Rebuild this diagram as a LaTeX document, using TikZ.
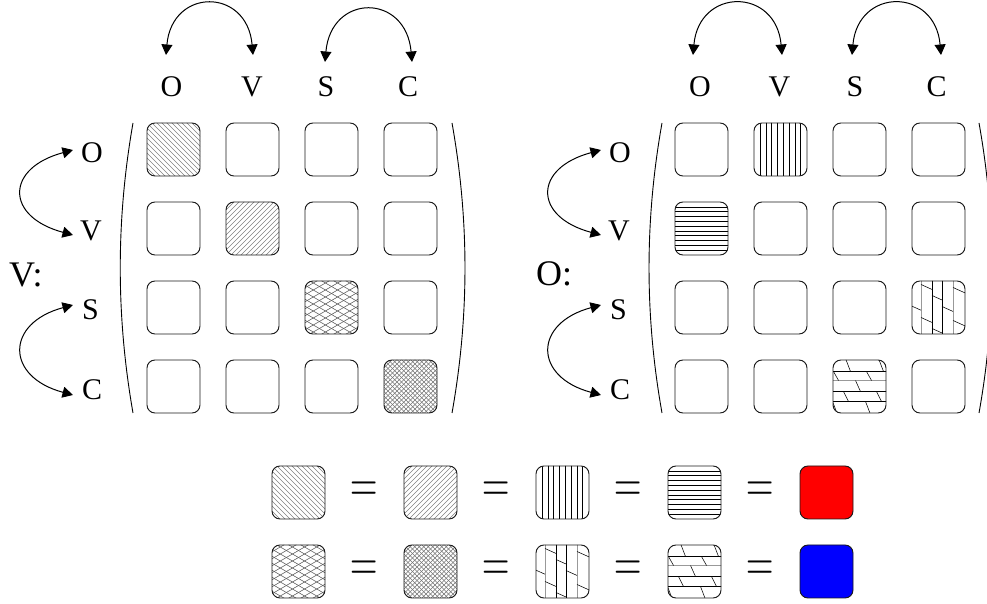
\documentclass[tikz,border=0pt]{standalone}
\usepackage{fontspec}
\usepackage{graphicx}
\setmainfont{Liberation Serif}
\newfontfamily\lmrfont{Latin Modern Roman}
\usetikzlibrary{arrows.meta}
\tikzset{
  cellbox/.style={draw=black!90, line width=0.95pt, rounded corners=8pt,
    minimum width=53pt, minimum height=53pt, inner sep=0pt},
  plain/.style={},
  lbl/.style={font=\fontsize{30}{36}\selectfont, inner sep=0pt},
  biglbl/.style={font=\fontsize{36}{42}\selectfont, inner sep=0pt},
  eqsign/.style={font=\lmrfont\fontsize{33}{40}\selectfont, inner sep=0pt},
  arr/.style={{Triangle[length=10.5pt,width=11pt]}-{Triangle[length=10.5pt,width=11pt]}, line width=1pt},
  paren/.style={line width=0.9pt},
  patNW/.style={path picture={
    \foreach \i in {-60,-55,...,60}{
      \draw[black!50,line width=0.65pt] ([xshift=\i pt]path picture bounding box.center) ++(-40pt,40pt) -- ++(80pt,-80pt);
    }}},
  patNE/.style={path picture={
    \foreach \i in {-60,-55,...,60}{
      \draw[black!50,line width=0.65pt] ([xshift=\i pt]path picture bounding box.center) ++(-40pt,-40pt) -- ++(80pt,80pt);
    }}},
  patDia/.style={path picture={
    \foreach \i in {-49,-42,...,49}{
      \draw[black!65,line width=0.55pt] ([yshift=\i pt]path picture bounding box.center) ++(-52pt,-30pt) -- ++(104pt,60pt);
      \draw[black!65,line width=0.55pt] ([yshift=\i pt]path picture bounding box.center) ++(-52pt,30pt) -- ++(104pt,-60pt);
    }}},
  patFine/.style={path picture={
    \foreach \i in {-54,-49.5,...,54}{
      \draw[black!55,line width=0.5pt] ([xshift=\i pt]path picture bounding box.center) ++(-40pt,-40pt) -- ++(80pt,80pt);
      \draw[black!55,line width=0.5pt] ([xshift=\i pt]path picture bounding box.center) ++(-40pt,40pt) -- ++(80pt,-80pt);
    }}},
  patV/.style={path picture={
    \foreach \i in {-20.3,-14.5,-8.7,-2.9,2.9,8.7,14.5,20.3}{
      \draw[black,line width=0.7pt] ([xshift=\i pt]path picture bounding box.center) ++(0pt,-30pt) -- ++(0pt,60pt);
    }}},
  patH/.style={path picture={
    \foreach \i in {-21.6,-16.8,...,21.7}{
      \draw[black,line width=0.7pt] ([yshift=\i pt]path picture bounding box.center) ++(-30pt,0pt) -- ++(60pt,0pt);
    }}},
  patBH/.style={path picture={
    \coordinate (pc) at (path picture bounding box.center);
    \foreach \yy/\cc in {15/black,6/black!40,-5/black,-15/black}{
      \draw[\cc,line width=0.65pt] ([yshift=\yy pt]pc) ++(-30pt,0pt) -- ++(60pt,0pt);
    }
    \foreach \ya/\yb/\off in {28/15/-14, 15/6/7, 6/-5/-4, -5/-15/17, -15/-28/6}{
      \foreach \j in {-2,-1,0,1}{
        \draw[black,line width=0.55pt] (pc) ++({(\off+(\j)*33)*1pt},{\ya*1pt}) -- ++(5pt,{(\yb-(\ya))*1pt});
      }
    }}},
  patBV/.style={path picture={
    \coordinate (pc) at (path picture bounding box.center);
    \foreach \xx/\cc in {-17.5/black!40,-6.5/black,3.5/black,14.5/black!40}{
      \draw[\cc,line width=0.65pt] ([xshift=\xx pt]pc) ++(0pt,-30pt) -- ++(0pt,60pt);
    }
    \foreach \xa/\xb/\off in {-28/-17.5/2, -17.5/-6.5/23, -6.5/3.5/12, 3.5/14.5/1, 14.5/28/20}{
      \foreach \j in {-2,-1,0,1}{
        \draw[black,line width=0.55pt] (pc) ++({\xa*1pt},{(\off+(\j)*33)*1pt}) -- ++({(\xb-(\xa))*1pt},{-0.45*(\xb-(\xa))*1pt});
      }
    }}},
}
\begin{document}
\begin{tikzpicture}[x=1pt,y=1pt]
\useasboundingbox (0,0) rectangle (987,604);

% ---------- left matrix ----------
\foreach \r/\c/\p in {1/1/patNW,1/2/plain,1/3/plain,1/4/plain,
                      2/1/plain,2/2/patNE,2/3/plain,2/4/plain,
                      3/1/plain,3/2/plain,3/3/patDia,3/4/plain,
                      4/1/plain,4/2/plain,4/3/plain,4/4/patFine}{
  \node[cellbox,\p] (L\r\c) at ({173.5+79*(\c-1)},{454.5-79*(\r-1)}) {};
}
% ---------- right matrix ----------
\foreach \r/\c/\p in {1/1/plain,1/2/patV,1/3/plain,1/4/plain,
                      2/1/patH,2/2/plain,2/3/plain,2/4/plain,
                      3/1/plain,3/2/plain,3/3/plain,3/4/patBV,
                      4/1/plain,4/2/plain,4/3/patBH,4/4/plain}{
  \node[cellbox,\p] (R\r\c) at ({701.5+79*(\c-1)},{454.5-79*(\r-1)}) {};
}

% parentheses
\draw[paren] (133,481) .. controls (116,384) and (116,288) .. (133,191);
\draw[paren] (452,481) .. controls (469.3,384) and (469.3,288) .. (452,191);
\draw[paren] (662,481) .. controls (644.7,384) and (644.7,288) .. (662,191);
\draw[paren] (979,481) .. controls (996.3,384) and (996.3,288) .. (979,191);

% column labels
\node[lbl,anchor=base] (LtO) at (171.5,507) {O};
\node[lbl,anchor=base] (LtV) at (252,507) {V};
\node[lbl,anchor=base] (LtS) at (326,507) {S};
\node[lbl,anchor=base] (LtC) at (408,507) {C};
\node[lbl,anchor=base] (RtO) at (700,507) {O};
\node[lbl,anchor=base] (RtV) at (779.5,507) {V};
\node[lbl,anchor=base] (RtS) at (855,507) {S};
\node[lbl,anchor=base] (RtC) at (936.5,507) {C};

% row labels
\node[lbl,anchor=base west] (LrO) at (81,441) {O};
\node[lbl,anchor=base west] (LrV) at (80,363) {V};
\node[lbl,anchor=base west] (LrS) at (82,284) {S};
\node[lbl,anchor=base west] (LrC) at (82,204) {C};
\node[lbl,anchor=base west] (RrO) at (609,441) {O};
\node[lbl,anchor=base west] (RrV) at (608,363) {V};
\node[lbl,anchor=base west] (RrS) at (610,284) {S};
\node[lbl,anchor=base west] (RrC) at (610,204) {C};

% matrix names
\node[biglbl,anchor=base west] (Vname) at (9,317) {V:};
\node[biglbl,anchor=base west] (Oname) at (536,318) {O:};

% arrow end points
\coordinate (aLtO) at (166,549);
\coordinate (aLtV) at (253,549);
\coordinate (aLtS) at (325,542);
\coordinate (aLtC) at (412,542);
\coordinate (aRtO) at (693,549);
\coordinate (aRtV) at (782,549);
\coordinate (aRtS) at (852,549);
\coordinate (aRtC) at (941,549);
\coordinate (aLrO) at (73,454);
\coordinate (aLrV) at (73,369);
\coordinate (aLrS) at (73,299);
\coordinate (aLrC) at (73,209);
\coordinate (aRrO) at (601,454);
\coordinate (aRrV) at (601,369);
\coordinate (aRrS) at (601,299);
\coordinate (aRrC) at (601,209);

% top arcs
\draw[arr] (aLtO) to[out=85,in=95,looseness=2.0] (aLtV);
\draw[arr] (aLtS) to[out=85,in=95,looseness=2.04] (aLtC);
\draw[arr] (aRtO) to[out=85,in=95,looseness=1.96] (aRtV);
\draw[arr] (aRtS) to[out=85,in=95,looseness=1.96] (aRtC);
% side arcs
\draw[arr] (aLrO) to[out=195,in=165,looseness=2.12] (aLrV);
\draw[arr] (aLrS) to[out=195,in=165,looseness=2.0] (aLrC);
\draw[arr] (aRrO) to[out=195,in=165,looseness=2.12] (aRrV);
\draw[arr] (aRrS) to[out=195,in=165,looseness=2.0] (aRrC);

% ---------- legend ----------
\foreach \k/\p in {1/patNW,2/patNE,3/patV,4/patH}{
  \node[cellbox,\p] (K\k) at ({298.5+132*(\k-1)},111.5) {};
}
\node[cellbox,fill=red] (K5) at (826.5,111.5) {};
\foreach \k/\p in {1/patDia,2/patFine,3/patBV,4/patBH}{
  \node[cellbox,\p] (M\k) at ({298.5+132*(\k-1)},32.5) {};
}
\node[cellbox,fill=blue] (M5) at (826.5,32.5) {};
\foreach \k in {1,...,4}{
  \node[eqsign] (E\k) at ({364.5+132*(\k-1)},112) {\scalebox{1.15}[1.75]{=}};
  \node[eqsign] (F\k) at ({364.5+132*(\k-1)},32.5) {\scalebox{1.15}[1.75]{=}};
}
\end{tikzpicture}
\end{document}
